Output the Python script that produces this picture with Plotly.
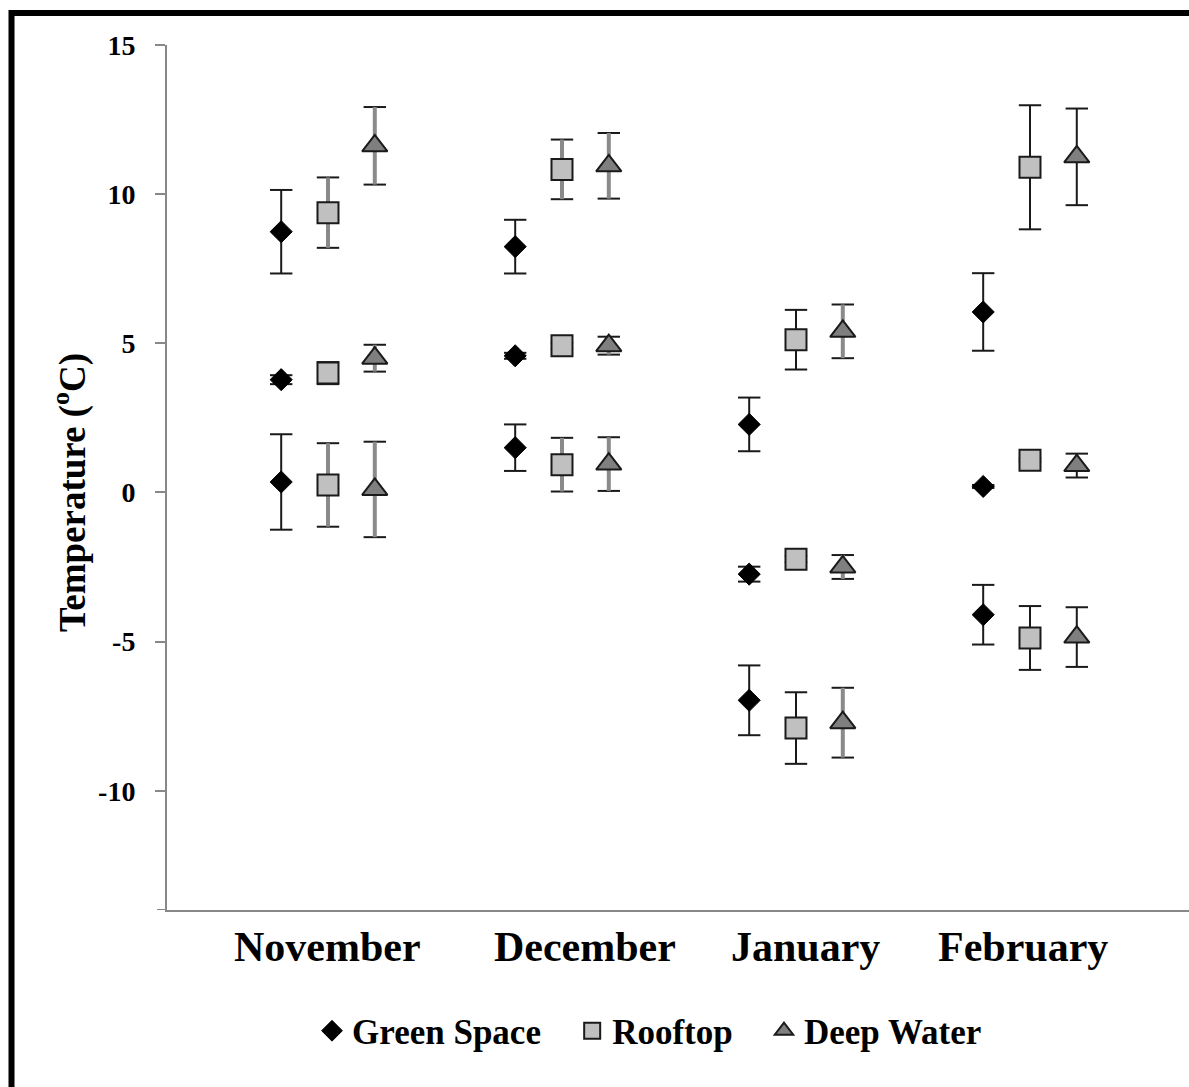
import plotly.graph_objects as go

# Months on the category axis; each month has three readings per site
# (upper, middle and lower group), listed month by month.
months = ["November", "December", "January", "February"]
groups_per_month = 3

green_space = [8.74, 3.78, 0.35, 8.24, 4.58, 1.50, 2.28, -2.74, -6.97, 6.05, 0.20, -4.10]
green_space_err = [1.40, 0.15, 1.60, 0.90, 0.10, 0.78, 0.90, 0.25, 1.17, 1.30, 0.05, 1.00]

rooftop = [9.38, 4.00, 0.25, 10.83, 4.92, 0.93, 5.12, -2.24, -7.90, 10.90, 1.08, -4.88]
rooftop_err = [1.18, 0.37, 1.40, 1.00, 0.10, 0.90, 1.00, 0.10, 1.20, 2.08, 0.05, 1.07]

deep_water = [11.62, 4.50, 0.10, 10.95, 4.92, 0.95, 5.40, -2.50, -7.72, 11.25, 0.90, -4.85]
deep_water_err = [1.30, 0.45, 1.60, 1.10, 0.30, 0.90, 0.90, 0.40, 1.17, 1.62, 0.40, 1.00]

y_ticks = [-10, -5, 0, 5, 10, 15]
y_tick_text = ["-10", "-5", "0", "5", "10", "15"]

FONT = "Liberation Serif"
AXIS_GREY = "#888888"
EDGE = "#1a1a1a"
NBSP = "\u00a0"

# marker look and horizontal offset of each site within a month
series = [
    dict(name="Green Space", y=green_space, err=green_space_err, offset=-0.2,
         marker=dict(symbol="diamond", size=17, color="black",
                     line=dict(color="black", width=1)),
         grey_stem_months=[], legend_pad=3),
    dict(name="Rooftop", y=rooftop, err=rooftop_err, offset=0.0,
         marker=dict(symbol="square", size=21, color="#c0c0c0",
                     line=dict(color=EDGE, width=2)),
         grey_stem_months=["November", "December"], legend_pad=3),
    dict(name="Deep Water", y=deep_water, err=deep_water_err, offset=0.2,
         marker=dict(symbol="triangle-up", size=22, color="#7f7f7f",
                     line=dict(color=EDGE, width=2)),
         grey_stem_months=["November", "December", "January"], legend_pad=0),
]


def month_of(i):
    return months[i // groups_per_month]


def xpos(s, i):
    return months.index(month_of(i)) + s["offset"]


fig = go.Figure()

# error-bar caps (drawn first so the symbols sit on top of them)
for s in series:
    n = len(s["y"])
    cx, cy = [], []
    for i in range(n):
        for sign in (1, -1):
            cx.append(xpos(s, i))
            cy.append(s["y"][i] + sign * s["err"][i])
    fig.add_trace(go.Scatter(
        x=cx, y=cy, mode="markers", showlegend=False, hoverinfo="skip",
        marker=dict(symbol="line-ew", size=16,
                    line=dict(color=EDGE, width=2)),
    ))

# symbols with their error-bar stems
for s in series:
    n = len(s["y"])
    for grey in (False, True):
        idx = [i for i in range(n) if (month_of(i) in s["grey_stem_months"]) == grey]
        if not idx:
            continue
        fig.add_trace(go.Scatter(
            x=[xpos(s, i) for i in idx],
            y=[s["y"][i] for i in idx],
            mode="markers",
            name=s["name"] + NBSP * s["legend_pad"],
            legendgroup=s["name"],
            showlegend=not grey,
            marker=s["marker"],
            error_y=dict(type="data", array=[s["err"][i] for i in idx],
                         visible=True, width=0,
                         color="#8a8a8a" if grey else EDGE,
                         thickness=4 if grey else 2),
        ))

# plot area: x from 167px to the right edge, y from 45px to 910px
PLOT_L, PLOT_R, PLOT_T, PLOT_B = 167, 1189, 45, 910
W, H = 1189, 1087
x_left = -0.688
x_right = x_left + (PLOT_R - PLOT_L) / 234.0


def px_to_paper_x(px):
    return (px - PLOT_L) / (PLOT_R - PLOT_L)


def px_to_paper_y(py):
    return (PLOT_B - py) / (PLOT_B - PLOT_T)


# month labels sit under the axis, hand-placed
label_x = {"November": 0.0, "December": 1.10, "January": 2.04, "February": 2.97}
annotations = []
for m in months:
    annotations.append(dict(
        x=label_x[m], y=px_to_paper_y(947), xref="x", yref="paper",
        text=m, showarrow=False, xanchor="center", yanchor="middle",
        font=dict(family=FONT, size=42, color="black", weight="bold"),
    ))
annotations.append(dict(
    x=px_to_paper_x(70), y=px_to_paper_y(493), xref="paper", yref="paper",
    text="Temperature (<sup>o</sup>C)", textangle=-90, showarrow=False,
    xanchor="center", yanchor="middle",
    font=dict(family=FONT, size=37, color="black", weight="bold"),
))

shapes = [
    # outer frame (top and left edges)
    dict(type="line", xref="paper", yref="paper", xsizemode="pixel", ysizemode="pixel",
         xanchor=0, yanchor=1, x0=11.5 - PLOT_L, x1=W - PLOT_L + 20,
         y0=PLOT_T - 13, y1=PLOT_T - 13, line=dict(color="black", width=6)),
    dict(type="line", xref="paper", yref="paper", xsizemode="pixel", ysizemode="pixel",
         xanchor=0, yanchor=1, x0=11.5 - PLOT_L, x1=11.5 - PLOT_L,
         y0=PLOT_T - 10, y1=-(H - PLOT_T) - 20, line=dict(color="black", width=6)),
    # tick stub at the bottom of the value axis
    dict(type="line", xref="paper", yref="y", xsizemode="pixel", xanchor=0,
         x0=-10, x1=0, y0=-14, y1=-14, line=dict(color=AXIS_GREY, width=2)),
]

fig.update_layout(
    width=W, height=H,
    margin=dict(l=PLOT_L, r=W - PLOT_R, t=PLOT_T, b=H - PLOT_B, pad=0),
    paper_bgcolor="white", plot_bgcolor="white",
    font=dict(family=FONT, color="black"),
    xaxis=dict(range=[x_left, x_right], showgrid=False, zeroline=False,
               showticklabels=False, ticks="", showline=True,
               linecolor=AXIS_GREY, linewidth=2, fixedrange=True),
    yaxis=dict(range=[-14, 15], tickvals=y_ticks, ticktext=y_tick_text,
               showgrid=False, zeroline=False,
               ticks="outside", ticklen=10, tickwidth=2, tickcolor=AXIS_GREY,
               showline=True, linecolor=AXIS_GREY, linewidth=2,
               ticklabelstandoff=14,
               tickfont=dict(family=FONT, size=28, color="black", weight="bold")),
    legend=dict(orientation="h", x=px_to_paper_x(312), y=px_to_paper_y(1031),
                xanchor="left", yanchor="middle",
                font=dict(family=FONT, size=35, color="black", weight="bold"),
                bgcolor="rgba(0,0,0,0)"),
    annotations=annotations,
    shapes=shapes,
)

fig.write_html("out.html")
